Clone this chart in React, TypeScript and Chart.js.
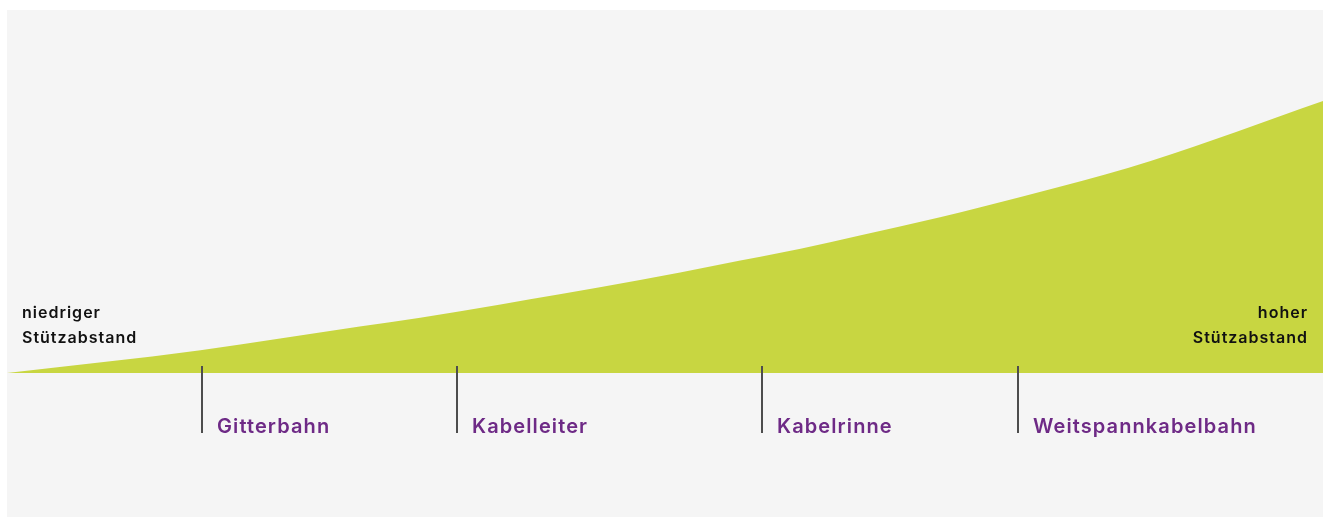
import React, { useEffect, useRef } from "react";
import { Chart, registerables } from "chart.js";

Chart.register(...registerables);

// Relative position along the span (0–100) and relative height of the curve (0–100)
const curveX = [0, 14.7, 26.8, 31.4, 37.5, 42.0, 48.1, 54.2, 60.3, 64.8, 70.9, 73.9, 80.0, 86.9, 100];
const curveY = [0, 6.3, 12.8, 15.2, 18.9, 21.7, 25.6, 29.9, 34.2, 37.9, 42.9, 45.6, 51.3, 58.4, 74.9];

const categories = ["Gitterbahn", "Kabelleiter", "Kabelrinne", "Weitspannkabelbahn"];
const categoryX = [14.8, 34.2, 57.4, 76.8];

const leftLabel = ["niedriger", "Stützabstand"];
const rightLabel = ["hoher", "Stützabstand"];

const GREEN = "#c8d641";
const PURPLE = "#6e2a86";
const BG = "#f5f5f5";

export default function App() {
  const ref = useRef<HTMLCanvasElement | null>(null);

  useEffect(() => {
    if (!ref.current) return;
    const bgPlugin = {
      id: "bg",
      beforeDraw(chart: any) {
        const ctx = chart.ctx;
        ctx.save();
        ctx.fillStyle = "#ffffff";
        ctx.fillRect(0, 0, chart.width, chart.height);
        ctx.fillStyle = BG;
        ctx.fillRect(7, 10, chart.width - 7, chart.height - 11);
        ctx.restore();
      },
    };
    const annoPlugin = {
      id: "anno",
      afterDraw(chart: any) {
        const ctx = chart.ctx;
        const xs = chart.scales.x;
        const bottom = chart.chartArea.bottom;
        ctx.save();
        // category ticks and labels
        categories.forEach((c, i) => {
          const px = Math.round(xs.getPixelForValue(categoryX[i]));
          ctx.fillStyle = "#4d4d4d";
          ctx.fillRect(px - 1, bottom - 7, 2, 67);
          ctx.fillStyle = PURPLE;
          ctx.font = "600 20px Inter";
          ctx.letterSpacing = "1.1px";
          ctx.textAlign = "left";
          ctx.textBaseline = "alphabetic";
          ctx.fillText(c, px + 15, bottom + 60);
        });
        // end labels
        ctx.fillStyle = "#111111";
        ctx.font = "600 16px Inter";
        ctx.letterSpacing = "1px";
        ctx.textBaseline = "alphabetic";
        ctx.textAlign = "left";
        leftLabel.forEach((t, i) => ctx.fillText(t, 22, bottom - 55 + i * 25));
        ctx.textAlign = "right";
        rightLabel.forEach((t, i) => ctx.fillText(t, chart.width - 15, bottom - 55 + i * 25));
        ctx.restore();
      },
    };

    const chart = new Chart(ref.current, {
      type: "line",
      data: {
        datasets: [
          {
            data: curveX.map((x, i) => ({ x, y: curveY[i] })),
            backgroundColor: GREEN,
            borderColor: GREEN,
            borderWidth: 0,
            pointRadius: 0,
            fill: "origin",
            cubicInterpolationMode: "monotone",
          },
        ],
      },
      options: {
        animation: false,
        responsive: false,
        layout: { padding: { left: 7, right: 0, top: 10, bottom: 145 } },
        plugins: { legend: { display: false }, tooltip: { enabled: false } },
        scales: {
          x: { type: "linear", min: 0, max: 100, display: false },
          y: { min: 0, max: 100, display: false },
        },
      },
      plugins: [bgPlugin, annoPlugin],
    });
    return () => chart.destroy();
  }, []);

  return (
    <canvas
      ref={ref}
      width={1323}
      height={518}
      style={{ position: "absolute", left: 0, top: 0, width: 1323, height: 518 }}
    />
  );
}
